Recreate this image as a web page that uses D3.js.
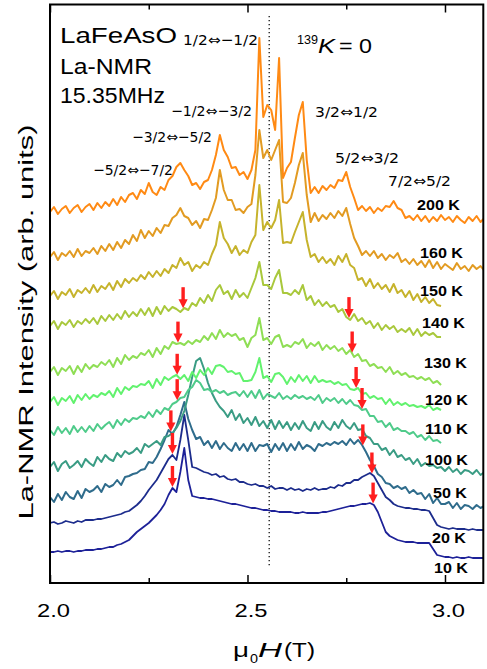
<!DOCTYPE html>
<html>
<head>
<meta charset="utf-8">
<script src="https://cdn.jsdelivr.net/npm/d3@7"></script>
<style>
  html, body { margin: 0; padding: 0; background: #fff; }
  svg { display: block; }
</style>
</head>
<body>
<svg id="chart" width="487" height="669"></svg>
<script>
// ---- data -------------------------------------------------------------
// Field sweep: every spectrum is sampled from fieldStart in steps of fieldStep (T)
const fieldStart = 2.0;
const fieldStep = 0.01;

const temps   = ["200 K", "160 K", "150 K", "140 K", "130 K", "120 K", "110 K", "100 K", "50 K", "20 K", "10 K"];
// vertical offset of each trace (arb. units)
const offsets = [363, 315, 277, 246, 198, 173, 140, 110, 76, 53, 25];
const colors  = ["#ff8a14", "#e29b22", "#c6b32c", "#a9c83c", "#8fde55", "#62f26e", "#4fcb8a", "#3a9c84", "#2f6c8c", "#1c2c8c", "#1d2198"];

// La-NMR intensity (arb. units) above each trace's offset
const s200 = [8,13,6,11,14,7,12,15,8,13,16,
  10,17,12,18,14,21,15,23,18,25,
  27,21,30,26,37,28,25,33,30,40,
  44,53,57,50,44,35,37,31,38,40,
  50,65,85,70,63,52,53,45,48,41,
  50,70,182,103,115,110,90,162,42,52,
  58,82,105,118,60,27,33,27,34,30,
  35,32,40,39,48,33,22,10,14,9,
  13,7,12,9,14,13,19,12,10,2,
  4,0,5,-1,4,-2,3,-1,5,0,
  3,-2,4,0,-3,3,-1,4,-2,2];
const s160 = [11,16,8,15,12,17,11,19,12,17,15,
  20,14,22,17,24,18,26,20,28,24,
  33,27,38,30,37,32,40,35,43,42,
  50,53,60,52,50,43,47,40,49,48,
  58,70,98,78,68,68,58,59,55,61,
  64,93,138,110,118,108,118,128,66,65,
  70,85,103,115,73,46,55,47,53,49,
  55,50,57,52,60,44,30,22,13,17,
  12,17,10,14,8,13,10,15,6,9,
  4,9,3,7,1,8,0,6,-1,4,
  1,-2,5,-1,2,-3,3,-1,2,-3];
const s150 = [10,15,7,14,11,17,9,16,13,18,
  13,21,14,20,17,23,16,25,19,27,
  23,28,25,31,27,34,29,35,30,37,
  33,41,38,48,41,44,35,41,38,44,
  41,52,61,84,68,62,53,60,51,56,
  53,64,71,121,76,84,78,86,106,63,
  64,63,74,84,94,66,49,52,44,49,
  43,47,41,50,44,52,41,38,26,28,
  20,27,18,23,17,21,14,22,13,16,
  9,15,6,12,4,9,3,7,1,0];
const s140 = [11,16,8,15,12,17,10,16,13,18,
  14,19,13,21,16,22,17,23,18,26,
  20,25,21,28,22,29,21,30,23,31,
  26,30,28,25,29,27,34,31,39,34,
  42,36,47,52,43,46,38,47,40,44,
  39,49,59,75,52,52,48,59,67,44,
  44,42,47,43,52,37,41,32,37,31,
  35,30,32,25,28,20,17,23,16,19,
  13,16,9,14,7,12,8,11,5,8,
  5,9,2,8,1,5,2,4,0,0];
const s130 = [13,18,10,17,14,19,11,19,13,21,
  16,20,18,23,20,25,18,27,21,30,
  25,29,27,32,30,35,28,37,31,39,
  36,43,41,42,40,44,41,45,43,49,
  45,52,46,55,48,52,49,51,45,47,
  38,47,50,67,45,47,41,48,50,38,
  40,38,43,41,46,37,42,39,43,35,
  40,36,39,34,37,31,35,28,31,24,
  25,19,21,17,18,13,18,11,14,10,
  12,8,9,6,8,5,7,2,4,0];
const s120 = [8,13,5,12,9,14,7,15,10,16,
  11,15,13,17,15,19,13,22,16,23,
  20,24,23,26,25,29,22,31,25,33,
  30,33,35,31,35,29,38,32,40,35,
  42,36,44,45,43,38,39,36,37,29,
  29,30,38,52,32,34,28,36,37,33,
  26,33,28,35,29,34,27,34,28,30,
  28,29,26,28,25,26,21,20,22,16,
  17,12,14,11,12,6,11,5,8,5,
  7,4,5,3,4,2,5,0,2,0];
const s110 = [13,8,16,10,15,9,17,11,16,11,
  17,12,19,14,18,21,15,23,18,24,
  21,25,24,27,25,31,26,33,29,35,
  33,39,41,45,46,53,56,63,60,53,
  54,51,53,50,52,48,50,51,47,52,
  46,52,45,53,44,49,47,45,50,44,
  47,44,48,45,47,44,46,43,48,40,
  45,42,45,40,44,39,43,38,37,33,
  34,27,27,21,22,16,20,13,15,12,
  12,9,11,6,8,3,7,2,3,0];
const s100 = [6,11,2,9,12,5,8,12,6,14,10,
  7,16,11,18,14,12,20,16,22,19,
  21,25,20,29,26,29,32,28,36,37,
  40,45,52,62,78,96,112,115,104,90,
  80,72,66,62,56,63,53,59,50,55,
  48,56,47,52,45,53,44,52,45,51,
  43,50,44,52,45,42,51,44,52,46,
  43,51,45,53,47,44,50,43,44,37,
  35,29,29,23,25,18,23,16,18,13,
  15,9,14,7,10,7,8,5,6,2,
  6,1,4,-1,3,2,-1,3,-2,1];
const s50 = [10,5,13,7,15,10,8,16,9,18,15,
  17,21,15,23,20,22,27,22,30,31,
  33,34,37,38,45,44,50,58,67,77,
  73,80,92,105,88,77,68,70,62,66,
  59,66,58,64,59,56,64,57,63,56,
  64,56,62,61,63,55,63,57,64,56,
  63,57,65,58,62,60,56,63,61,64,
  62,65,63,66,62,68,63,67,62,55,
  47,41,33,30,24,23,19,21,18,20,
  14,17,13,14,8,13,4,9,3,3,
  5,-1,4,-2,2,1,-2,2,-1,1];
const s20 = [7,8,6,7,9,8,7,9,8,10,10,
  10,11,11,12,13,14,15,16,18,19,
  22,25,29,34,40,45,50,57,64,71,
  75,70,90,115,90,63,62,60,58,57,
  55,56,53,54,51,50,51,48,48,46,
  45,46,44,44,42,44,41,42,42,40,
  42,40,41,39,41,40,42,40,41,41,
  43,42,45,44,47,47,50,50,53,55,
  57,54,47,40,33,30,26,24,23,22,
  22,21,21,20,20,19,12,5,3,2,
  1,2,1,1,1,0,1,0,0,0];
const s10 = [6,6,7,6,7,7,6,7,7,8,8,
  8,9,9,10,11,11,13,14,16,18,
  22,26,29,32,35,39,43,48,54,63,
  70,66,86,110,78,62,61,60,60,59,
  59,58,57,56,55,54,54,53,52,51,
  50,50,49,48,48,47,47,46,46,46,
  46,45,45,46,45,45,45,45,46,46,
  47,48,49,50,51,52,52,53,54,54,
  55,53,46,36,26,22,20,18,17,16,
  16,16,15,15,15,15,9,3,2,1,
  1,0,1,0,0,1,0,0,0,0];
const spectra = [s200, s160, s150, s140, s130, s120, s110, s100, s50, s20, s10];

// field of the unshifted line (139K = 0)
const kZeroField = 2.555;

// transitions of the quadrupole-split spectrum
const transitions = ["1/2⇔−1/2", "−1/2⇔−3/2", "−3/2⇔−5/2", "−5/2⇔−7/2", "3/2⇔1/2", "5/2⇔3/2", "7/2⇔5/2"];

// shoulders marked in the ordered state (temperature, field in T)
const arrowTemps  = ["140 K", "130 K", "120 K", "110 K", "50 K", "20 K", "10 K",
                     "140 K", "130 K", "120 K", "110 K", "50 K", "20 K", "10 K"];
const arrowFields = [2.337, 2.324, 2.322, 2.322, 2.306, 2.310, 2.310,
                     2.757, 2.765, 2.775, 2.790, 2.792, 2.815, 2.818];

// axis ticks
const majorTicks = [2.0, 2.5, 3.0];
const minorTicks = [2.25, 2.75];

// ---- layout -----------------------------------------------------------
const plot = { left: 50, right: 483.3, top: 4.5, bottom: 583 };
const transitionAt = [[183, 45, 75], [171, 116, 81], [132, 142, 80], [93, 175, 80],
                      [315, 117, 63], [335, 163, 64], [388, 186, 63]];
const tempLabelAt = [[417, 210], [420, 258], [420, 296], [422, 328], [424, 368], [425, 405],
                     [425, 434], [425, 465], [433, 498], [432, 543], [434, 573]];

const svg = d3.select("#chart");
const x = d3.scaleLinear().domain([2.0, 3.097]).range([plot.left, plot.right]);
const y = d3.scaleLinear().domain([0, 578]).range([plot.bottom, 5]);

svg.append("defs").append("clipPath").attr("id", "plotClip")
  .append("rect")
  .attr("x", plot.left).attr("y", plot.top)
  .attr("width", plot.right - plot.left).attr("height", plot.bottom - plot.top);

// dotted line at zero Knight shift
svg.append("line")
  .attr("x1", x(kZeroField)).attr("x2", x(kZeroField))
  .attr("y1", 16).attr("y2", 566)
  .attr("stroke", "#222").attr("stroke-width", 1.4)
  .attr("stroke-dasharray", "1.3,2.7");

// spectra
const line = d3.line().x(d => x(d[0])).y(d => y(d[1]));
const traces = svg.append("g").attr("clip-path", "url(#plotClip)");
for (let k = spectra.length - 1; k >= 0; k--) {
  const pts = spectra[k].map((v, i) => [fieldStart + i * fieldStep, offsets[k] + v]);
  traces.append("path")
    .attr("d", line(pts))
    .attr("fill", "none")
    .attr("stroke", colors[k])
    .attr("stroke-width", k >= 9 ? 1.8 : 2.0)
    .attr("stroke-linejoin", "round");
}

// red arrows on the shoulders
function valueAt(vals, field) {
  const f = (field - fieldStart) / fieldStep;
  const i = Math.floor(f), t = f - i;
  return vals[i] * (1 - t) + vals[Math.min(i + 1, vals.length - 1)] * t;
}
const arrows = svg.append("g").attr("fill", "#ff1e1e");
arrowTemps.forEach((t, j) => {
  const k = temps.indexOf(t);
  const tx = x(arrowFields[j]);
  const ty = y(offsets[k] + valueAt(spectra[k], arrowFields[j])) - 1;
  arrows.append("rect").attr("x", tx - 1.7).attr("y", ty - 21).attr("width", 3.4).attr("height", 13);
  arrows.append("path").attr("d", `M${tx - 4.6},${ty - 9}L${tx + 4.6},${ty - 9}L${tx},${ty}Z`);
});

// axes (ticks point inwards)
const tickStyle = g => {
  g.select(".domain").remove();
  g.selectAll(".tick line").attr("stroke", "#000").attr("stroke-width", 1.5);
};
svg.append("g").attr("transform", `translate(0,${plot.bottom})`)
  .call(d3.axisBottom(x).tickValues(majorTicks).tickSize(-8).tickPadding(21).tickFormat(d3.format(".1f")))
  .call(tickStyle)
  .call(g => g.selectAll(".tick text")
    .attr("font-family", "Liberation Sans, Arial, sans-serif")
    .attr("font-size", 19).attr("fill", "#000").attr("dx", 3)
    .attr("textLength", 33).attr("lengthAdjust", "spacingAndGlyphs"));
svg.append("g").attr("transform", `translate(0,${plot.bottom})`)
  .call(d3.axisBottom(x).tickValues(minorTicks).tickSize(-5).tickFormat(""))
  .call(tickStyle);
svg.append("g").attr("transform", `translate(0,${plot.top})`)
  .call(d3.axisTop(x).tickValues(majorTicks).tickSize(-8).tickFormat(""))
  .call(tickStyle);
svg.append("g").attr("transform", `translate(0,${plot.top})`)
  .call(d3.axisTop(x).tickValues(minorTicks).tickSize(-5).tickFormat(""))
  .call(tickStyle);

// frame
svg.append("rect")
  .attr("x", plot.left).attr("y", plot.top)
  .attr("width", plot.right - plot.left).attr("height", plot.bottom - plot.top)
  .attr("fill", "none").attr("stroke", "#000").attr("stroke-width", 2);

// ---- text ---------------------------------------------------------------
const sans = "Liberation Sans, Arial, sans-serif";
function label(txt, px, py, size, width, opts = {}) {
  const t = svg.append("text")
    .attr("x", px).attr("y", py)
    .attr("font-family", opts.family || sans)
    .attr("font-size", size)
    .attr("fill", "#000")
    .text(txt);
  if (width) t.attr("textLength", width).attr("lengthAdjust", "spacingAndGlyphs");
  if (opts.weight) t.attr("font-weight", opts.weight);
  if (opts.style) t.attr("font-style", opts.style);
  return t;
}

label("LaFeAsO", 60, 43, 22, 117);
label("La-NMR", 60, 74, 22, 92);
label("15.35MHz", 60, 103, 22, 105);

label("139", 297, 44, 13, 21);
label("K", 318, 53, 21, 17, { style: "italic" });
label("= 0", 339, 53, 21, 33);

transitions.forEach((txt, j) => {
  const [tx, ty, tw] = transitionAt[j];
  label(txt, tx, ty, 14.5, tw, { family: "DejaVu Sans, sans-serif" });
});

temps.forEach((txt, k) => {
  const [tx, ty] = tempLabelAt[k];
  label(txt, tx, ty, 15, txt.length > 4 ? 43 : 34, { weight: "bold" });
});

// axis titles
svg.append("text")
  .attr("transform", "translate(33,322) rotate(-90)")
  .attr("text-anchor", "middle")
  .attr("font-family", sans).attr("font-size", 21).attr("fill", "#000")
  .attr("textLength", 395).attr("lengthAdjust", "spacingAndGlyphs")
  .text("La-NMR Intensity (arb. units)");

label("μ", 233, 657, 20, 16);
label("0", 250, 663, 13, 8);
label("H", 258, 657, 21, 24, { style: "italic" });
label("(T)", 284, 657, 21, 31);
</script>
</body>
</html>
